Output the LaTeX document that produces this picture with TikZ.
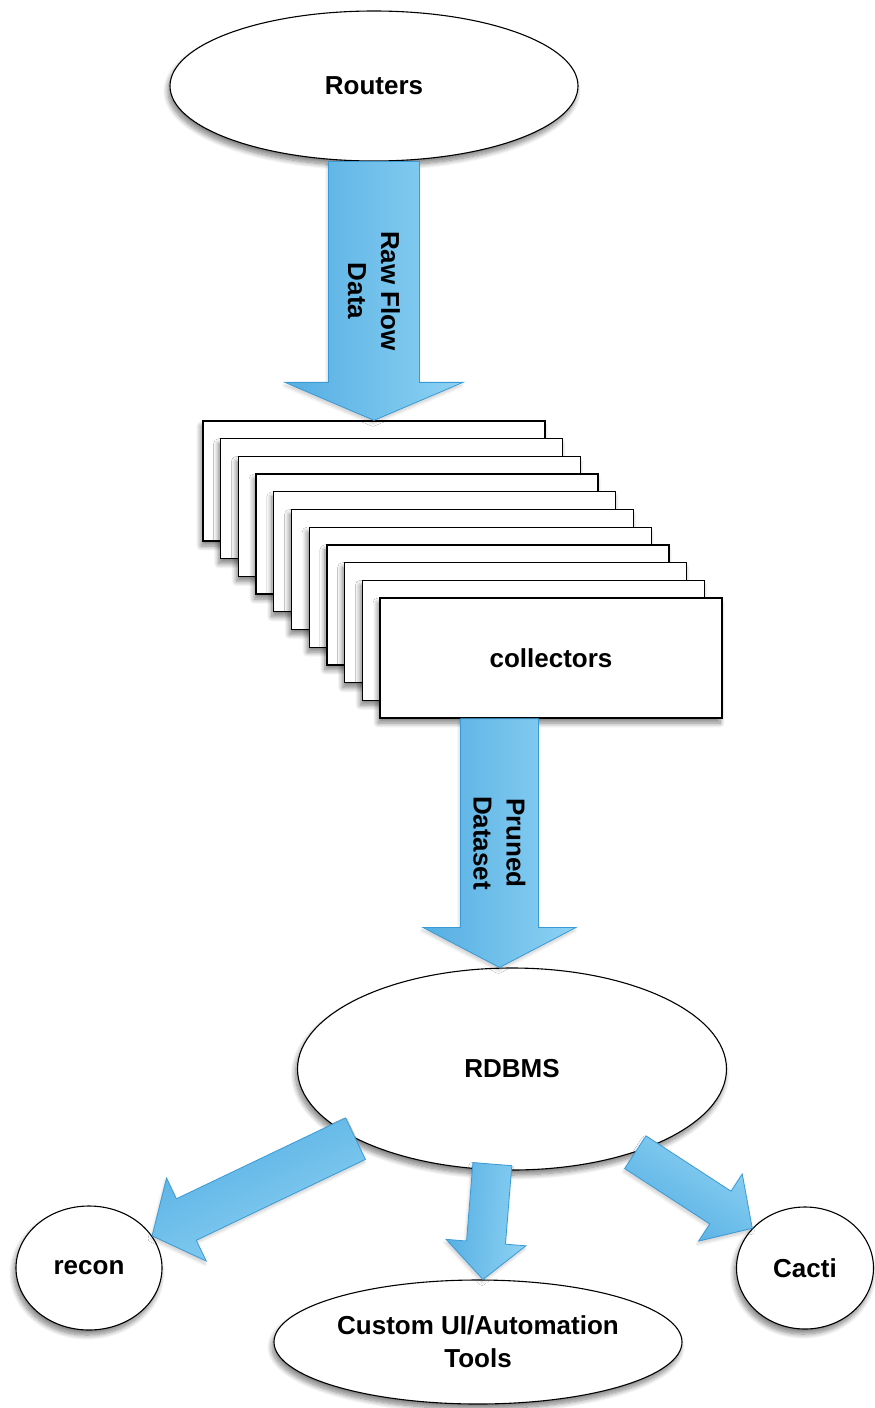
\documentclass[tikz,border=0pt]{standalone}
\usepackage{fontspec}
\setmainfont{Liberation Sans}
\usetikzlibrary{calc,shapes.geometric,shadows.blur}
\definecolor{arrdark}{HTML}{55AEE2}
\definecolor{arrlight}{HTML}{8DD2F4}
\definecolor{arredge}{HTML}{3A9AD6}
% #1 tail, #2 tip, #3 half shaft width, #4 half head width, #5 head length, #6 shading angle
\newcommand\blockarr[6]{%
  \coordinate (bah) at ($(#2)!#5!(#1)$);
  \path[blockarrow, shading angle=#6]
    ($(#1)!#3!90:(#2)$) -- ($(bah)!#3!90:(#2)$) -- ($(bah)!#4!90:(#2)$) -- (#2)
    -- ($(bah)!#4!-90:(#2)$) -- ($(bah)!#3!-90:(#2)$) -- ($(#1)!#3!-90:(#2)$) -- cycle;}
\begin{document}
\begin{tikzpicture}[x=1pt,y=-1pt,
  lbl/.style={font=\fontsize{26}{33}\selectfont\bfseries, align=center, inner sep=0pt},
  shapeshadow/.style={blur shadow={shadow xshift=-2pt,shadow yshift=-5pt,shadow blur steps=10,shadow opacity=50,shadow blur radius=5pt}},
  arrowshadow/.style={blur shadow={shadow xshift=-1pt,shadow yshift=-3pt,shadow blur steps=6,shadow opacity=20,shadow blur radius=3pt}},
  oval/.style={ellipse, draw=black, line width=1.1pt, fill=white, inner sep=0pt, shapeshadow, lbl},
  card/.style={rectangle, draw=black, line width=1.3pt, fill=white, minimum width=342pt, minimum height=120pt, inner sep=0pt, shapeshadow, lbl},
  blockarrow/.style={draw=arredge, line width=0.8pt, shading=axis, top color=arrlight, bottom color=arrdark, line join=miter, arrowshadow}]
\useasboundingbox (0,0) rectangle (875,1408);

\node[oval, minimum width=408pt, minimum height=150pt] (routers) at (374,86) {Routers};

\foreach \k in {0,...,9}
  \node[card] (c\k) at ({374+17.7*\k},{481+17.7*\k}) {};
\node[card] (c10) at ({374+177},{481+177}) {collectors};

\node[oval, minimum width=429pt, minimum height=202pt] (rdbms) at (512,1069) {RDBMS};
\node[oval, minimum width=146pt, minimum height=124pt] (recon) at (89,1268) {recon};
\node[oval, minimum width=137pt, minimum height=122pt] (cacti) at (805,1268) {Cacti};
\node[oval, minimum width=408pt, minimum height=124pt] (custom) at (478,1342) {Custom UI/Automation\\Tools};

% Raw flow data arrow
\blockarr{routers.south}{c0.north}{45.5pt}{89pt}{38pt}{270}
\node[lbl, rotate=-90] (rawlbl) at ($(routers.south)!0.5!(c0.north)$) {Raw Flow\\Data};

% Pruned dataset arrow
\coordinate (a2t) at ($(c10.south west)!0.35!(c10.south east)$);
\coordinate (a2h) at (a2t |- rdbms.north);
\blockarr{a2t}{a2h}{39pt}{76.5pt}{40pt}{270}
\node[lbl, rotate=-90] (prunedlbl) at ($(a2t)!0.5!(a2h)$) {Pruned\\Dataset};

% bottom arrows
\blockarr{rdbms.204}{recon.27}{23pt}{46pt}{38pt}{206}
\coordinate (m1) at ($(rdbms.259)+(0,-6)$);
\coordinate (m2) at ($(custom.north)+(5,0)$);
\blockarr{m1}{m2}{19.5pt}{40pt}{37pt}{266}
\blockarr{rdbms.326}{cacti.143}{19.5pt}{40pt}{38pt}{327}
\end{tikzpicture}
\end{document}
